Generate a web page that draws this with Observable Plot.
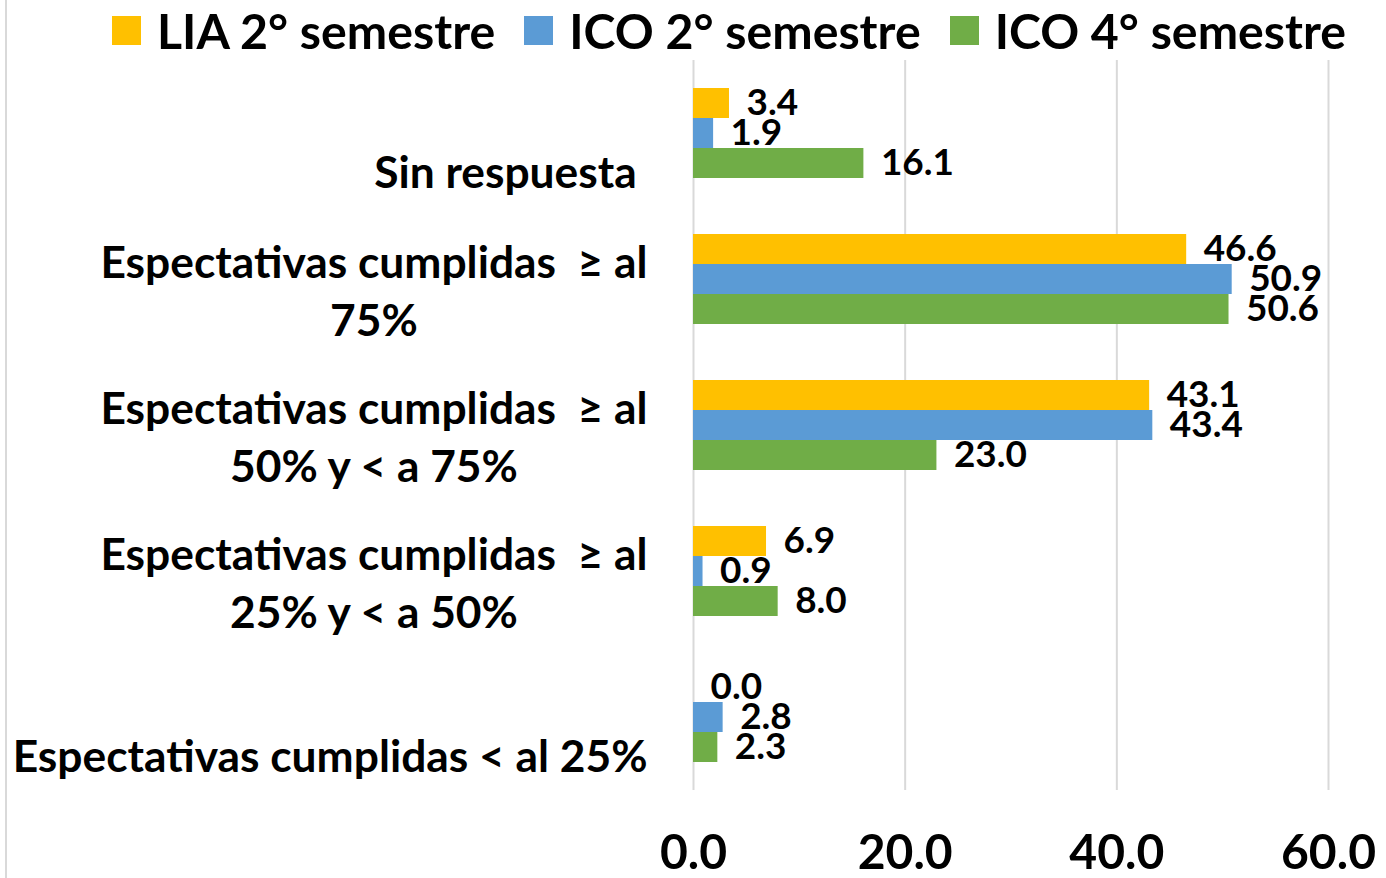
<!DOCTYPE html>
<html><head><meta charset="utf-8">
<script src="https://cdn.jsdelivr.net/npm/d3@7"></script>
<script src="https://cdn.jsdelivr.net/npm/@observablehq/plot@0.6"></script>
<style>
body{margin:0;background:#fff;font-family:Lato,"Open Sans",sans-serif;}
#wrap{position:relative;width:1386px;height:878px;overflow:hidden;background:#fff;}
#border{position:absolute;left:5px;top:0;width:2px;height:878px;background:#d9d9d9;}
#legend{position:absolute;top:0;left:112px;height:60px;display:flex;align-items:center;white-space:nowrap;font-weight:bold;color:#000;}
.sw{display:inline-block;width:29px;height:29px;margin-right:16px;}
.it{display:flex;align-items:center;margin-right:29px;}
#chart{position:absolute;top:60px;left:0;}
</style></head>
<body>
<div id="wrap"><div id="border"></div><div id="legend"></div><div id="chart"></div></div>
<script>
const categories = [
  "Sin respuesta ",
  "Espectativas cumplidas  ≥ al\n75%",
  "Espectativas cumplidas  ≥ al\n50% y < a 75%",
  "Espectativas cumplidas  ≥ al\n25% y < a 50%",
  "Espectativas cumplidas < al 25%"
];
const series = ["LIA 2° semestre", "ICO 2° semestre", "ICO 4° semestre"];
const colors = ["#FFC000", "#5B9BD5", "#70AD47"];
const liaSem2 = [3.4, 46.6, 43.1, 6.9, 0.0];
const icoSem2 = [1.9, 50.9, 43.4, 0.9, 2.8];
const icoSem4 = [16.1, 50.6, 23.0, 8.0, 2.3];
const xTicks = [0, 20, 40, 60];

const FONT = "Lato";
const ctx = document.createElement("canvas").getContext("2d");
function fit(text, target) {
  ctx.font = `bold 100px ${FONT}`;
  return 100 * target / ctx.measureText(text).width;
}
function widthAt(text, size) {
  ctx.font = `bold ${size}px ${FONT}`;
  return ctx.measureText(text).width;
}
const legendSize = fit("LIA 2° semestre", 340);
const catSize = fit("Espectativas cumplidas < al 25%", 635);
const valSize = fit("50.9", 73);
const tickSize = fit("20.0", 95);

// legend
const legend = document.getElementById("legend");
legend.style.fontSize = legendSize + "px";
series.forEach((s, i) => {
  const it = document.createElement("div");
  it.className = "it";
  it.innerHTML = `<span class="sw" style="background:${colors[i]}"></span><span>${s}</span>`;
  legend.appendChild(it);
});

const valuesBySeries = [liaSem2, icoSem2, icoSem4];
const rows = categories.flatMap((c, i) => series.map((s, j) => ({category: c, series: s, value: valuesBySeries[j][i]})));
const single = categories.filter(c => !c.includes("\n"));
const double = categories.filter(c => c.includes("\n"));
const labelRight = -46; // right edge of label block relative to plot left

const marks = [
  Plot.ruleX(xTicks, {stroke: "#d9d9d9", strokeWidth: 2}),
  Plot.barX(rows, {x: "value", y: "series", fy: "category", fill: "series"}),
  Plot.text(rows, {x: "value", y: "series", fy: "category", text: d => d.value.toFixed(1), textAnchor: "start", dx: 17, fontSize: valSize, fontWeight: "bold", fill: "#000"}),
  Plot.text(single, {fy: d => d, text: d => d, frameAnchor: "left", textAnchor: "end", dx: labelRight, dy: 40, fontSize: catSize, fontWeight: "bold", fill: "#000"}),
  ...double.map(c => Plot.text([c], {fy: d => d, text: d => d, frameAnchor: "left", textAnchor: "middle", dx: labelRight - widthAt(c.split("\n")[0], catSize) / 2, dy: 9, lineHeight: 58 / catSize, fontSize: catSize, fontWeight: "bold", fill: "#000"})),
  Plot.axisX({ticks: xTicks, tickFormat: d => d.toFixed(1), tickSize: 0, tickPadding: 44, label: null, fontSize: tickSize, fontWeight: "bold", fill: "#000"})
];

const chart = Plot.plot({
  width: 1386,
  height: 818,
  marginTop: 0,
  marginBottom: 88,
  marginLeft: 693,
  marginRight: 58,
  style: {fontFamily: FONT, background: "transparent", overflow: "visible", color: "#000", whiteSpace: "pre"},
  x: {domain: [0, 60], axis: null, label: null},
  fy: {domain: categories, padding: 0, axis: null},
  y: {domain: series, paddingInner: 0, paddingOuter: 0.933, axis: null},
  color: {domain: series, range: colors},
  marks
});
document.getElementById("chart").appendChild(chart);
</script>
</body></html>
